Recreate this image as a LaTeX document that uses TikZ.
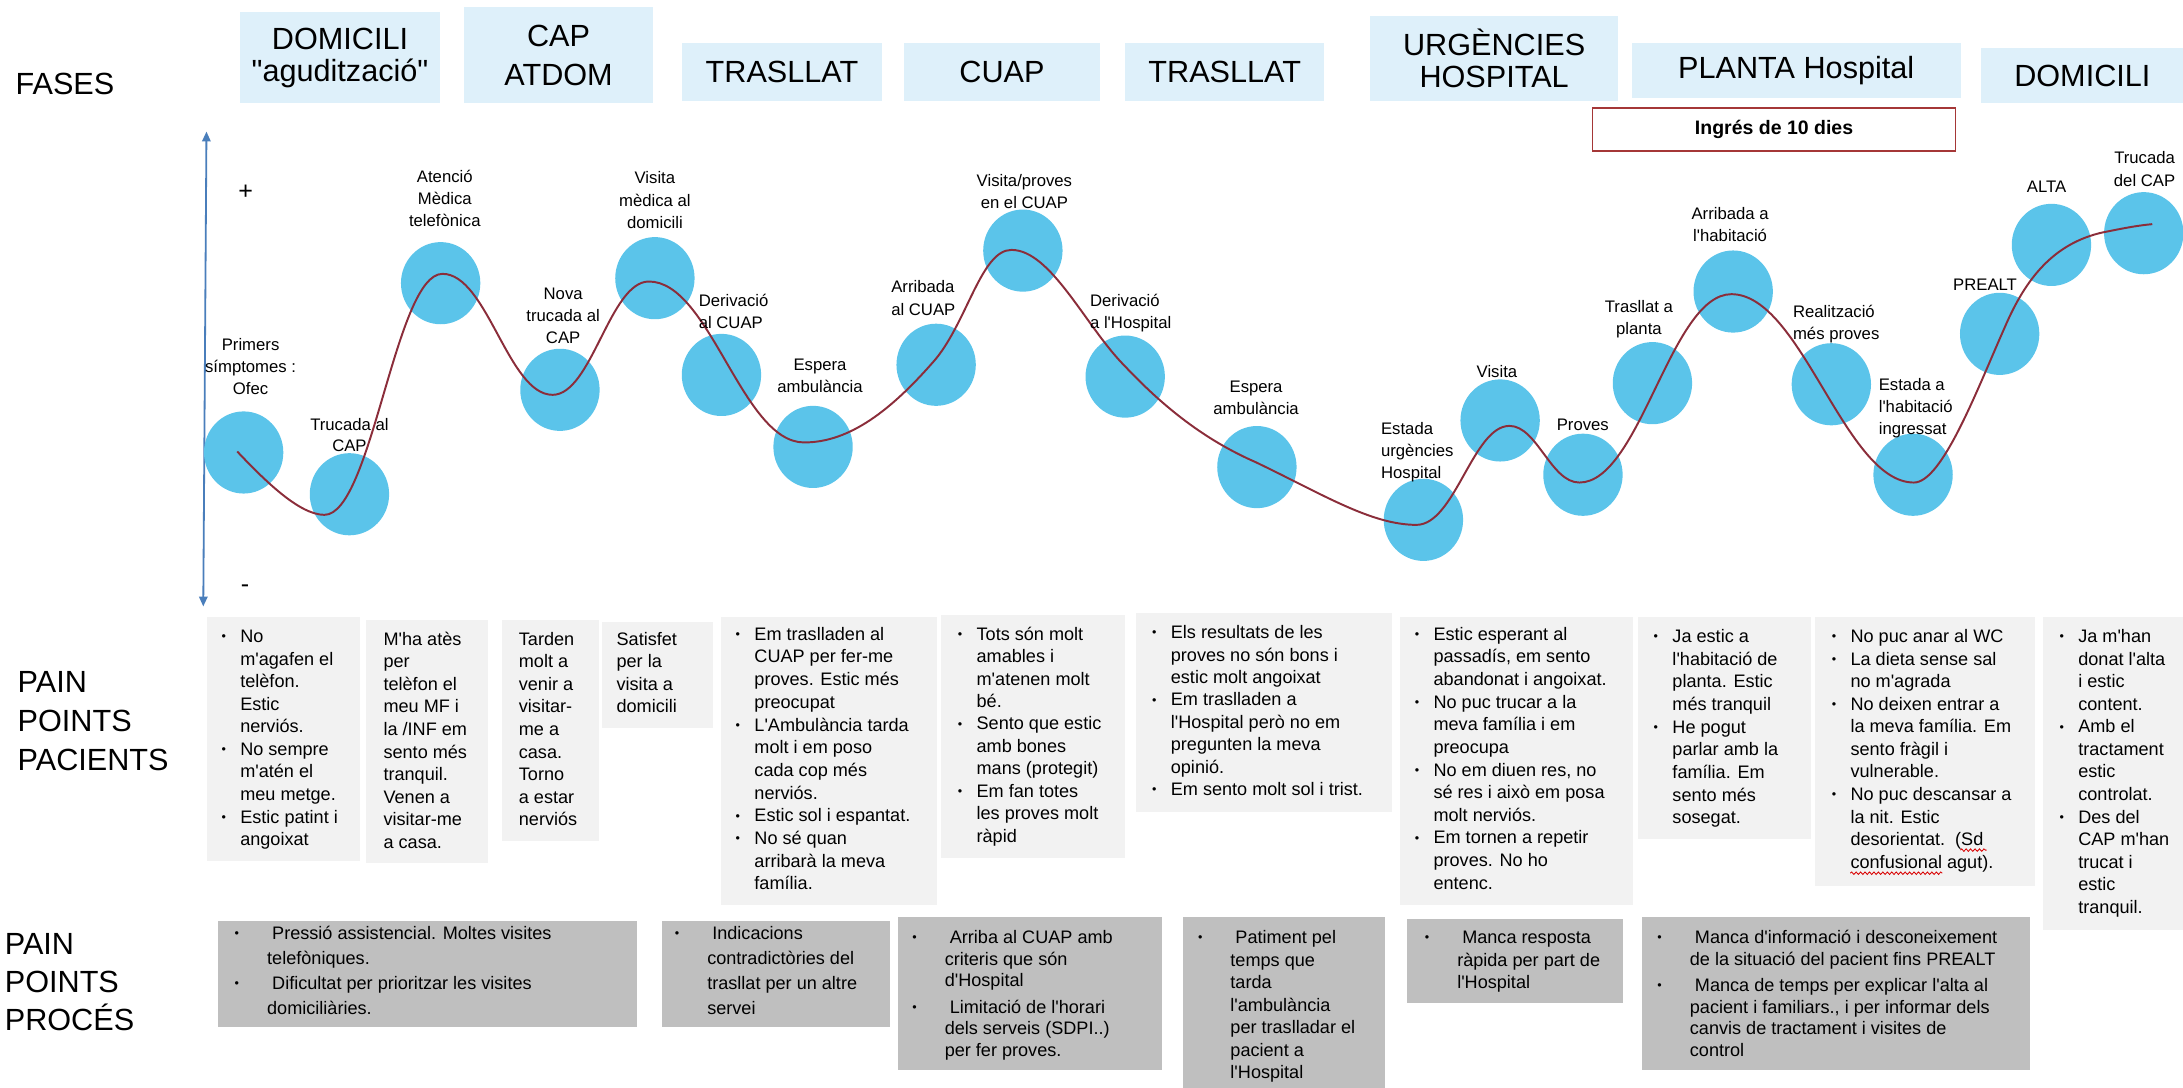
\documentclass[tikz,border=0pt]{standalone}
\usepackage{fontspec}
\setmainfont{Liberation Sans}
\newfontfamily\plainf{Liberation Sans}
\usetikzlibrary{shapes.geometric,arrows.meta,decorations.pathmorphing}
\definecolor{hdrblue}{RGB}{222,240,250}
\definecolor{dotblue}{RGB}{91,196,234}
\definecolor{paingrey}{RGB}{242,242,242}
\definecolor{procgrey}{RGB}{191,191,191}
\definecolor{curvered}{RGB}{139,45,58}
\definecolor{axisblue}{RGB}{74,126,187}
\definecolor{ingresred}{RGB}{165,55,55}
\newcommand\mytab[3]{{\plainf\fontsize{#1}{#2}\selectfont\begin{tabular}[t]{@{}l@{}}#3\end{tabular}}}
\newcommand\mytabc[3]{{\plainf\fontsize{#1}{#2}\selectfont\begin{tabular}[t]{@{}c@{}}#3\end{tabular}}}
\newcommand\pbul[1][13.5pt]{\llap{\makebox[#1][l]{\raisebox{1.3pt}{\fontsize{9}{9}\selectfont\textbullet}}}}
\begin{document}
\begin{tikzpicture}[x=1pt,y=-1pt, font=\plainf,
  hdr/.style={rectangle, fill=hdrblue, inner sep=0, anchor=north west, align=center, font=\plainf\fontsize{22}{23}\selectfont},
  painbox/.style={rectangle, fill=paingrey, inner sep=0, anchor=north west},
  procbox/.style={rectangle, fill=procgrey, inner sep=0, anchor=north west},
  ptxt/.style={anchor=base west, inner sep=0},
  dot/.style={ellipse, fill=dotblue, minimum width=57pt, minimum height=59pt, inner sep=0},
  lblc/.style={anchor=base, inner sep=0},
  lbll/.style={anchor=base west, inner sep=0},
  curve/.style={draw=curvered, line width=1.4pt},
  curveshadow/.style={draw=black!25, line width=2.2pt, opacity=0.5},
  axisline/.style={draw=axisblue, line width=1.3pt, {Triangle[width=6pt,length=7pt]}-{Triangle[width=6pt,length=7pt]}},
  wavy/.style={draw=red!85!black, line width=0.6pt, decorate, decoration={snake, amplitude=0.9pt, segment length=3.2pt}}
]
\useasboundingbox (0,0) rectangle (1568,781.45);

% ---------- left labels ----------
\node[anchor=base west, inner sep=0] (fases) at (11,68) {\mytab{22}{22}{FASES}};
\node[anchor=base west, inner sep=0] (ppac) at (12.5,497.4) {\mytab{22}{28.1}{PAIN\\POINTS\\PACIENTS}};
\node[anchor=base west, inner sep=0] (pproc) at (3.3,685.3) {\mytab{22}{27.3}{PAIN\\POINTS\\PROCÉS}};

% ---------- header boxes ----------
\node[hdr, minimum width=144pt, minimum height=65.6pt] (h1) at (172,8.4) {DOMICILI\\"agudització"};
\node[hdr, minimum width=136pt, minimum height=69pt, font=\plainf\fontsize{22}{28}\selectfont] (h2) at (333,5) {CAP\\ATDOM};
\node[hdr, minimum width=143pt, minimum height=41pt] (h3) at (490,31) {TRASLLAT};
\node[hdr, minimum width=141pt, minimum height=41pt] (h4) at (649,31) {CUAP};
\node[hdr, minimum width=143pt, minimum height=41pt] (h5) at (808,31) {TRASLLAT};
\node[hdr, minimum width=178pt, minimum height=60.5pt] (h6) at (984,11.5) {URGÈNCIES\\HOSPITAL};
\node[hdr, minimum width=236pt, minimum height=39.5pt] (h7) at (1172,31) {PLANTA Hospital};
\node[hdr, minimum width=145pt, minimum height=40pt] (h8) at (1423,34) {DOMICILI};
\node[draw=ingresred, line width=1pt, fill=white, anchor=north west, inner sep=0,
      minimum width=260.5pt, minimum height=31pt, font=\plainf\bfseries\fontsize{14}{14}\selectfont] (ingres) at (1143.5,77) {Ingrés de 10 dies};

% ---------- axis ----------
\coordinate (axtop) at (148.3,94.5);
\coordinate (axbot) at (146,435.6);
\draw[axisline] (axbot) -- (axtop);
\node[inner sep=0, font=\plainf\fontsize{18}{18}\selectfont] (plus) at (176.4,138.3) {+};
\node[inner sep=0, font=\plainf\fontsize{18}{18}\selectfont] (minus) at (176,423) {-};

% ---------- circles ----------
\node[dot] (c1) at (175,325) {};
\node[dot] (c2) at (251,355) {};
\node[dot] (c3) at (316.5,203.4) {};
\node[dot] (c4) at (402.2,280) {};
\node[dot] (c5) at (470.4,199.8) {};
\node[dot] (c6) at (518.2,269.3) {};
\node[dot] (c7) at (584,321) {};
\node[dot] (c8) at (672.4,262) {};
\node[dot] (c9) at (734.7,180) {};
\node[dot] (c10) at (808.2,270.5) {};
\node[dot] (c11) at (902.8,335.5) {};
\node[dot] (c12) at (1022.4,373.4) {};
\node[dot] (c13) at (1077.5,302) {};
\node[dot] (c14) at (1137,341) {};
\node[dot] (c15) at (1186.9,275.2) {};
\node[dot] (c16) at (1244.9,209.4) {};
\node[dot] (c17) at (1315.4,276) {};
\node[dot] (c18) at (1374.1,341) {};
\node[dot] (c19) at (1436.3,239.8) {};
\node[dot] (c20) at (1473.5,175.9) {};
\node[dot] (c21) at (1539.8,167.5) {};

% ---------- journey curve ----------
\draw[curve] (170.4,324.3) .. controls (190,345) and (215,369.8) .. (233,369.8)
 .. controls (267,369.8) and (284,196.7) .. (317.8,196.7)
 .. controls (350,196.7) and (365,283.6) .. (396.9,283.6)
 .. controls (425,283.6) and (438,202.2) .. (466.1,202.2)
 .. controls (510,202.2) and (533,317.8) .. (577.6,317.8)
 .. controls (610,317.8) and (640,295) .. (672,258)
 .. controls (695,230) and (705,179.5) .. (726.5,179.5)
 .. controls (755,179.5) and (780,235) .. (808,263)
 .. controls (840,297) and (870,318) .. (902,332)
 .. controls (950,355) and (985,377) .. (1017.4,377)
 .. controls (1045,377) and (1058,305.9) .. (1084.2,305.9)
 .. controls (1104,305.9) and (1114,346.6) .. (1134.4,346.6)
 .. controls (1178,346.6) and (1200,211.3) .. (1243.6,211.3)
 .. controls (1294,211.3) and (1325,346.6) .. (1374.7,346.6)
 .. controls (1395,346.6) and (1420,280) .. (1440,235)
 .. controls (1455,200) and (1475,175) .. (1510,167)
 .. controls (1525,164) and (1535,162) .. (1545.9,161);

% ---------- circle labels ----------
\node[lblc] (l1) at (180,251.7) {\mytabc{12}{16}{Primers\\símptomes :\\Ofec}};
\node[lblc] (l2) at (251,309) {\mytabc{12}{15}{Trucada al\\CAP}};
\node[lblc] (l3) at (319.5,131) {\mytabc{12}{15.7}{Atenció\\Mèdica\\telefònica}};
\node[lblc] (l4) at (404.5,215) {\mytabc{12}{16}{Nova\\trucada al\\CAP}};
\node[lblc] (l5) at (470.4,132) {\mytabc{12}{16.2}{Visita\\mèdica al\\domicili}};
\node[lbll] (l6) at (501.7,220) {\mytab{12}{15.8}{Derivació\\al CUAP}};
\node[lblc] (l7) at (589,266) {\mytabc{12}{15.6}{Espera\\ambulància}};
\node[lbll] (l8) at (640,210.3) {\mytab{12}{16.3}{Arribada\\al CUAP}};
\node[lblc] (l9) at (735.8,133.7) {\mytabc{12}{15.8}{Visita/proves\\en el CUAP}};
\node[lbll] (l10) at (782.8,220) {\mytab{12}{15.8}{Derivació\\a l'Hospital}};
\node[lblc] (l11) at (902.2,282) {\mytabc{12}{16}{Espera\\ambulància}};
\node[lbll] (l12) at (991.8,312.2) {\mytab{12}{15.8}{Estada\\urgències\\Hospital}};
\node[lblc] (l13) at (1075.2,271) {\mytabc{12}{16}{Visita}};
\node[lbll] (l14) at (1118,309) {\mytab{12}{16}{Proves}};
\node[lblc] (l15) at (1177.2,224.2) {\mytabc{12}{16.2}{Trasllat a\\planta}};
\node[lblc] (l16) at (1242.7,157.7) {\mytabc{12}{15.7}{Arribada a\\l'habitació}};
\node[lbll] (l17) at (1287.7,227.8) {\mytab{12}{16}{Realització\\més proves}};
\node[lbll] (l18) at (1349.3,280.4) {\mytab{12}{15.9}{Estada a\\l'habitació\\ingressat}};
\node[lblc] (l19) at (1425.8,208.6) {\mytabc{12}{16}{PREALT}};
\node[lblc] (l20) at (1470,138.5) {\mytabc{12}{16}{ALTA}};
\node[lblc] (l21) at (1540.4,117.7) {\mytabc{12}{16}{Trucada\\del CAP}};

% ---------- pain points pacients ----------
\node[painbox, minimum width=109.8pt, minimum height=175pt] (pb1) at (148.3,443.2) {};
\node[painbox, minimum width=87.4pt, minimum height=174.7pt] (pb2) at (263,445.2) {};
\node[painbox, minimum width=69.9pt, minimum height=158.4pt] (pb3) at (360.3,445.2) {};
\node[painbox, minimum width=79.1pt, minimum height=76.1pt] (pb4) at (432.5,446.4) {};
\node[painbox, minimum width=154.5pt, minimum height=206.6pt] (pb5) at (518,443.2) {};
\node[painbox, minimum width=132.2pt, minimum height=174.7pt] (pb6) at (675.6,441.6) {};
\node[painbox, minimum width=183.4pt, minimum height=142.9pt] (pb7) at (816.1,439.9) {};
\node[painbox, minimum width=167.2pt, minimum height=206.6pt] (pb8) at (1005.6,443.2) {};
\node[painbox, minimum width=123.9pt, minimum height=159.4pt] (pb9) at (1176.5,443.2) {};
\node[painbox, minimum width=158.1pt, minimum height=192.9pt] (pb10) at (1303.3,443.2) {};
\node[painbox, minimum width=100.8pt, minimum height=224.5pt] (pb11) at (1467.2,443.2) {};

\node[ptxt] (pt1) at (172.4,461.6) {\mytab{13}{16.2}{\pbul No\\m'agafen el\\telèfon.\\Estic\\nerviós.\\\pbul No sempre\\m'atén el\\meu metge.\\\pbul Estic patint i\\angoixat}};
\node[ptxt] (pt2) at (275.3,463.5) {\mytab{13}{16.2}{M'ha atès\\per\\telèfon el\\meu MF i\\la /INF em\\sento més\\tranquil.\\Venen a\\visitar-me\\a casa.}};
\node[ptxt] (pt3) at (372.5,463.5) {\mytab{13}{16.2}{Tarden\\molt a\\venir a\\visitar-\\me a\\casa.\\Torno\\a estar\\nerviós}};
\node[ptxt] (pt4) at (442.7,463.5) {\mytab{13}{16.2}{Satisfet\\per la\\visita a\\domicili}};
\node[ptxt] (pt5) at (541.7,459.9) {\mytab{13}{16.3}{\pbul Em traslladen al\\CUAP per fer-me\\proves. Estic més\\preocupat\\\pbul L'Ambulància tarda\\molt i em poso\\cada cop més\\nerviós.\\\pbul Estic sol i espantat.\\\pbul No sé quan\\arribarà la meva\\família.}};
\node[ptxt] (pt6) at (701.3,459.9) {\mytab{13}{16.1}{\pbul Tots són molt\\amables i\\m'atenen molt\\bé.\\\pbul Sento que estic\\amb bones\\mans (protegit)\\\pbul Em fan totes\\les proves molt\\ràpid}};
\node[ptxt] (pt7) at (840.8,458.7) {\mytab{13}{16.1}{\pbul Els resultats de les\\proves no són bons i\\estic molt angoixat\\\pbul Em traslladen a\\l'Hospital però no em\\pregunten la meva\\opinió.\\\pbul Em sento molt sol i trist.}};
\node[ptxt] (pt8) at (1029.5,459.9) {\mytab{13}{16.25}{\pbul Estic esperant al\\passadís, em sento\\abandonat i angoixat.\\\pbul No puc trucar a la\\meva família i em\\preocupa\\\pbul No em diuen res, no\\sé res i això em posa\\molt nerviós.\\\pbul Em tornen a repetir\\proves. No ho\\entenc.}};
\node[ptxt] (pt9) at (1201.1,461.6) {\mytab{13}{16.25}{\pbul Ja estic a\\l'habitació de\\planta. Estic\\més tranquil\\\pbul He pogut\\parlar amb la\\família. Em\\sento més\\sosegat.}};
\node[ptxt] (pt10) at (1329,461.6) {\mytab{13}{16.2}{\pbul No puc anar al WC\\\pbul La dieta sense sal\\no m'agrada\\\pbul No deixen entrar a\\la meva família. Em\\sento fràgil i\\vulnerable.\\\pbul No puc descansar a\\la nit. Estic\\desorientat.~~(Sd\\confusional agut).}};
\node[ptxt] (pt11) at (1492.6,461.6) {\mytab{13}{16.2}{\pbul Ja m'han\\donat l'alta\\i estic\\content.\\\pbul Amb el\\tractament\\estic\\controlat.\\\pbul Des del\\CAP m'han\\trucat i\\estic\\tranquil.}};
\coordinate (sd1) at (1408,610.6);
\coordinate (sd2) at (1427,610.6);
\coordinate (cf1) at (1329,627.2);
\coordinate (cf2) at (1395,627.2);
\draw[wavy] (sd1) -- (sd2);
\draw[wavy] (cf1) -- (cf2);

% ---------- pain points proces ----------
\node[procbox, minimum width=300.9pt, minimum height=76.6pt] (rb1) at (156.6,661) {};
\node[procbox, minimum width=163.6pt, minimum height=76.6pt] (rb2) at (475.3,661) {};
\node[procbox, minimum width=189.7pt, minimum height=110.1pt] (rb3) at (645,658.2) {};
\node[procbox, minimum width=145pt, minimum height=123.3pt] (rb4) at (849.6,658.2) {};
\node[procbox, minimum width=155.1pt, minimum height=60.4pt] (rb5) at (1010.7,660) {};
\node[procbox, minimum width=278.7pt, minimum height=110.1pt] (rb6) at (1179.5,658.2) {};

\node[ptxt] (rt1) at (191.7,674.5) {\mytab{13}{18}{\pbul[23.3pt] Pressió assistencial. Moltes visites\\telefòniques.\\\pbul[23.3pt] Dificultat per prioritzar les visites\\domiciliàries.}};
\node[ptxt] (rt2) at (507.8,674.5) {\mytab{13}{18}{\pbul[23.3pt] Indicacions\\contradictòries del\\trasllat per un altre\\servei}};
\node[ptxt] (rt3) at (678.4,677.7) {\mytab{13}{15.6}{\pbul[23.3pt] Arriba al CUAP amb\\criteris que són\\d'Hospital\\[3.3pt]\pbul[23.3pt] Limitació de l'horari\\dels serveis (SDPI..)\\per fer proves.}};
\node[ptxt] (rt4) at (883.6,677.7) {\mytab{13}{16.2}{\pbul[23.3pt] Patiment pel\\temps que\\tarda\\l'ambulància\\per traslladar el\\pacient a\\l'Hospital}};
\node[ptxt] (rt5) at (1046.5,677.7) {\mytab{13}{16.2}{\pbul[23.3pt] Manca resposta\\ràpida per part de\\l'Hospital}};
\node[ptxt] (rt6) at (1213.6,677.7) {\mytab{13}{15.6}{\pbul[23.3pt] Manca d'informació i desconeixement\\de la situació del pacient fins PREALT\\[3.3pt]\pbul[23.3pt] Manca de temps per explicar l'alta al\\pacient i familiars., i per informar dels\\canvis de tractament i visites de\\control}};
\end{tikzpicture}
\end{document}
